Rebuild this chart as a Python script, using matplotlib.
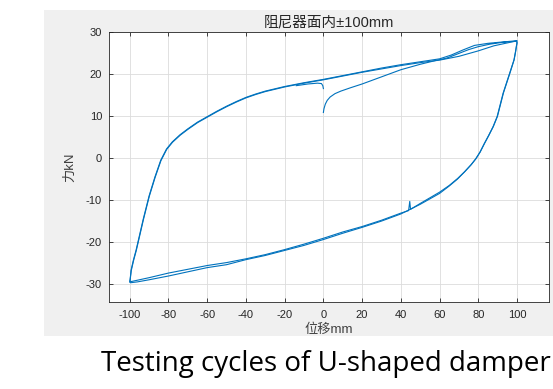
import matplotlib
matplotlib.use("Agg")
import matplotlib.pyplot as plt
from matplotlib.patches import Rectangle

plt.rcParams['font.family'] = ['Liberation Sans', 'Noto Sans CJK SC', 'DejaVu Sans']
plt.rcParams['axes.unicode_minus'] = False

# ---- data (displacement mm, force kN) ----
init_x = [0.0, 0.3, 1.0, 2.0, 3.5, 6.0, 9.0, 14.0, 20.0, 30.0, 40.0, 50.0, 58.0, 64.0]
init_y = [10.9, 11.8, 12.9, 13.8, 14.6, 15.4, 16.0, 16.8, 17.7, 19.4, 21.1, 22.4, 23.3, 23.9]

hook_x = [-14.0, -8.0, -3.0, -1.0, -0.3, 0.0]
hook_y = [17.3, 17.7, 17.9, 17.8, 17.3, 16.6]

# cycle 1
c1_x = [64.0, 70.0, 75.0, 80.0, 86.0, 92.0, 97.0, 99.7,
        100.0, 99.8, 99.3, 98.5, 96.4, 93.0, 89.9, 87.8, 85.5, 83.3, 81.0, 78.8,
        76.4, 73.0, 69.4, 65.0, 60.0, 50.0, 45.0, 44.6, 44.0, 40.0, 30.0, 20.0,
        10.0, 0.0, -10.0, -20.0,
        -30.0, -40.0, -50.0, -60.0, -70.0, -80.0, -90.0, -96.0, -99.0, -100.0,
        -99.8, -99.3, -98.1, -96.7, -95.5, -93.0, -90.0, -87.0, -84.0, -81.0,
        -78.0, -74.0, -70.0, -65.0, -60.0, -55.0, -50.0, -45.0, -40.0, -35.0,
        -30.0, -20.0, -10.0, 0.0, 10.0, 20.0, 30.0, 40.0, 50.0, 60.0, 66.0,
        72.0, 78.0, 85.0, 92.0, 97.0, 99.8]
c1_y = [23.9, 25.0, 25.9, 26.6, 27.2, 27.6, 27.8, 27.9,
        27.5, 27.0, 25.5, 23.5, 20.4, 15.6, 10.0, 7.6, 5.5, 3.6, 1.5, -0.1,
        -1.5, -3.2, -4.8, -6.5, -8.1, -10.8, -12.2, -10.3, -12.5, -13.1, -14.8, -16.3,
        -17.6, -19.1, -20.5, -21.8,
        -23.0, -24.0, -24.9, -25.6, -26.5, -27.4, -28.5, -29.1, -29.4, -29.4,
        -29.0, -26.7, -24.3, -21.9, -19.5, -14.5, -9.0, -4.5, -0.5, 2.2,
        3.9, 5.6, 7.0, 8.6, 9.9, 11.2, 12.4, 13.5, 14.5, 15.3,
        16.0, 17.1, 18.0, 18.8, 19.7, 20.6, 21.5, 22.3, 23.0, 23.7, 24.6,
        25.8, 26.9, 27.4, 27.7, 27.9, 28.0]

# cycle 2
c2_x = [99.8, 100.0, 99.8, 99.2, 98.4, 96.2, 92.8, 89.7, 87.6, 85.3, 83.1, 80.8, 78.6,
        76.2, 72.8, 69.2, 64.8,
        60.0, 50.0, 40.0, 30.0, 20.0, 10.0, 0.0, -10.0, -20.0, -30.0, -40.0,
        -50.0, -60.0, -70.0, -80.0, -90.0, -96.0, -99.5, -100.0,
        -99.8, -99.2, -98.0, -96.6, -95.4, -92.9, -89.9, -86.9, -83.9, -80.9,
        -77.9, -73.9, -69.9, -64.9, -59.9, -54.9, -49.9, -44.9, -39.9, -34.9,
        -29.9, -19.9, -9.9, 0.1, 10.1, 20.1, 30.1, 40.1, 50.1, 60.1, 70.0,
        80.0, 88.0, 95.0, 99.0, 99.9]
c2_y = [27.9, 27.6, 27.1, 25.4, 23.4, 20.3, 15.5, 9.9, 7.5, 5.4, 3.5, 1.4, -0.2,
        -1.6, -3.3, -5.0, -6.7,
        -8.4, -11.0, -13.3, -15.0, -16.5, -17.9, -19.4, -20.8, -22.0, -23.2, -24.2,
        -25.4, -26.1, -27.1, -28.1, -29.0, -29.5, -29.7, -29.6,
        -29.1, -26.8, -24.4, -22.0, -19.6, -14.6, -9.1, -4.6, -0.6, 2.1,
        3.8, 5.5, 6.9, 8.5, 9.8, 11.1, 12.3, 13.4, 14.4, 15.2,
        15.9, 17.0, 17.9, 18.7, 19.6, 20.5, 21.3, 22.1, 22.8, 23.4, 24.3,
        25.6, 26.8, 27.5, 27.9, 28.0]

xticks = [-100, -80, -60, -40, -20, 0, 20, 40, 60, 80, 100]
yticks = [-30, -20, -10, 0, 10, 20, 30]

title_text = '阻尼器面内±100mm'
xlabel_text = '位移mm'
ylabel_text = '力kN'
caption_text = 'Testing cycles of U-shaped damper'

# ---- figure ----
W, H = 553, 389
fig = plt.figure(figsize=(W / 100, H / 100), dpi=100)
fig.patch.set_facecolor('white')
bg = Rectangle((44 / W, 1 - 336 / H), (553 - 44) / W, (336 - 10) / H,
               transform=fig.transFigure, facecolor='#f0f0f0',
               edgecolor='none', zorder=-10)
fig.add_artist(bg)

ax = fig.add_axes([109 / W, 1 - 302 / H, (549 - 109) / W, (302 - 32) / H])
ax.set_zorder(5)
ax.set_facecolor('white')
line_color = '#0072BD'
for xs, ys in [(init_x, init_y), (hook_x, hook_y), (c1_x, c1_y), (c2_x, c2_y)]:
    ax.plot(xs, ys, color=line_color, lw=0.8)

ax.set_xlim(-110.7, 116.5)
ax.set_ylim(-34.3, 30.1)
ax.set_xticks(xticks)
ax.set_yticks(yticks)
ax.grid(True, color='#dcdcdc', lw=0.6)
ax.set_axisbelow(True)
for s in ax.spines.values():
    s.set_color('#262626')
    s.set_linewidth(0.6)
ax.tick_params(direction='in', length=3, width=0.6, colors='#262626',
               top=True, right=True, labelsize=8)
ax.tick_params(axis='x', pad=6)
ax.tick_params(axis='y', pad=5)

mixed = ['Liberation Sans', 'Noto Sans CJK SC', 'DejaVu Sans']
ax.set_title(title_text, fontsize=10.5, color='#262626', family=mixed, pad=4)
ax.set_xlabel(xlabel_text, fontsize=9.5, color='#404040', family=mixed, labelpad=2)
ax.set_ylabel(ylabel_text, fontsize=9.5, color='#404040', family=mixed, labelpad=7)

fig.text(326 / W, 1 - 371 / H, caption_text, fontsize=20, family='Open Sans',
         ha='center', va='baseline', color='black')

fig.savefig('out.png', dpi=100)
